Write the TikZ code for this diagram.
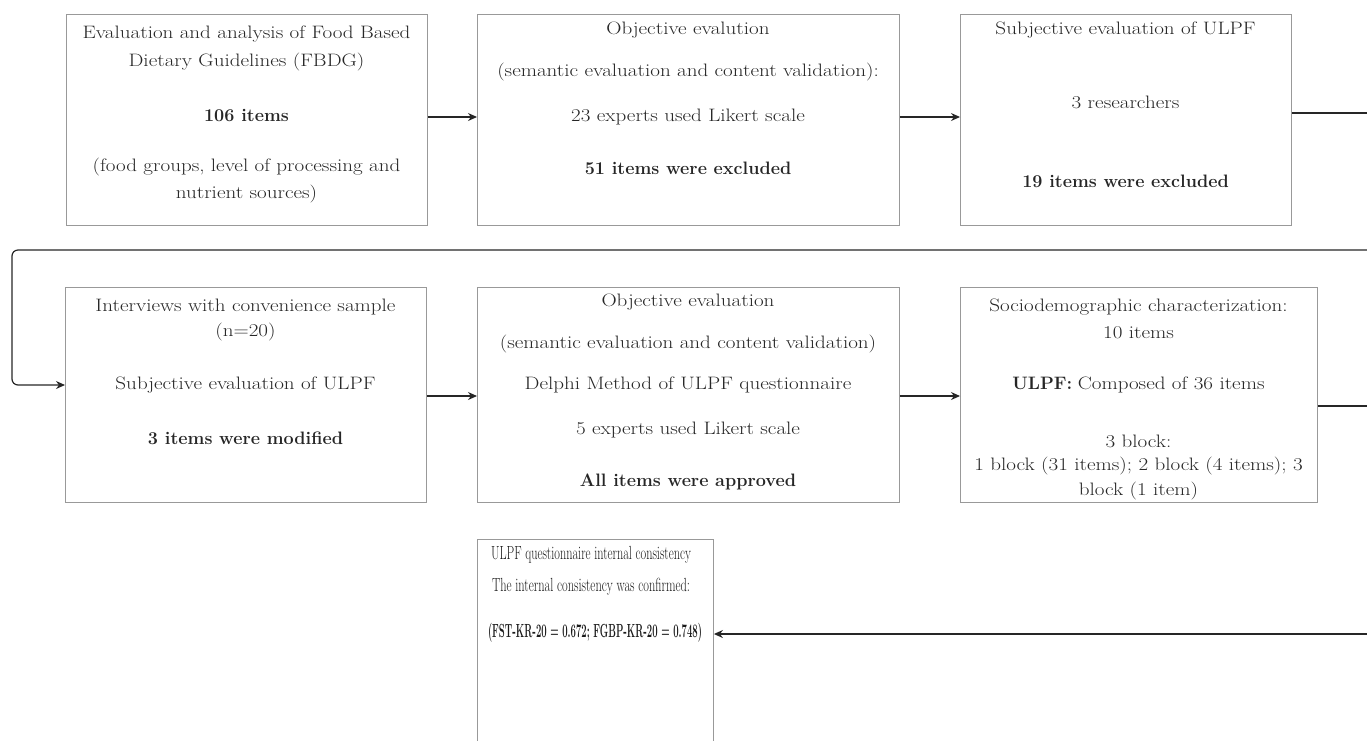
\documentclass[tikz,border=0pt]{standalone}
\usepackage{graphicx}
\usetikzlibrary{arrows.meta}
\newcommand{\W}[1]{\scalebox{1.17}[1]{#1}}
\newcommand{\C}[2]{\resizebox{#1pt}{\height}{#2}}
\begin{document}
\begin{tikzpicture}[x=1pt,y=-1pt,
  box/.style={draw=black!40, line width=0.9pt, anchor=north west, inner sep=0pt},
  txt/.style={inner sep=0pt, font=\fontsize{18}{21}\selectfont, text=black!85},
  ctxt/.style={inner sep=0pt, font=\fontsize{19}{22}\selectfont, text=black!90},
  conn/.style={line width=1.2pt, black!85},
  arr/.style={conn, -{Stealth[length=9pt,width=8pt]}},
]
\useasboundingbox (0,0) rectangle (1367,740);
\clip (0,0) rectangle (1367,740);
% boxes
\node[box, minimum width=361pt, minimum height=211pt] (b1) at (66,14) {};
\node[box, minimum width=422pt, minimum height=211pt] (b2) at (477,14) {};
\node[box, minimum width=331pt, minimum height=211pt] (b3) at (960,14) {};
\node[box, minimum width=361pt, minimum height=215pt] (b4) at (65,287) {};
\node[box, minimum width=422pt, minimum height=215pt] (b5) at (477,287) {};
\node[box, minimum width=357pt, minimum height=215pt] (b6) at (960,287) {};
\node[box, minimum width=236pt, minimum height=215pt] (b7) at (477,539) {};
% box 1 texts
\node[txt] (t11) at (246.5,34) {\W{Evaluation and analysis of Food Based}};
\node[txt] (t12) at (246.5,62) {\W{Dietary Guidelines (FBDG)}};
\node[txt] (t13) at (246.5,115) {\bfseries 106 items};
\node[txt] (t14) at (246.5,167) {\W{(food groups, level of processing and}};
\node[txt] (t15) at (246.5,194) {\W{nutrient sources)}};
% box 2 texts
\node[txt] (t21) at (688,30) {\W{Objective evalution}};
\node[txt] (t22) at (688,72) {\W{(semantic evaluation and content validation):}};
\node[txt] (t23) at (688,117) {\W{23 experts used Likert scale}};
\node[txt] (t24) at (688,168) {\bfseries 51 items were excluded};
% box 3 texts
\node[txt] (t31) at (1125.5,30) {\W{Subjective evaluation of ULPF}};
\node[txt] (t32) at (1125.5,102) {\W{3 researchers}};
\node[txt] (t33) at (1125.5,181) {\bfseries 19 items were excluded};
% box 4 texts
\node[txt] (t41) at (245.5,307) {\W{Interviews with convenience sample}};
\node[txt] (t42) at (245.5,332) {\W{(n=20)}};
\node[txt] (t43) at (245.5,385) {\W{Subjective evaluation of ULPF}};
\node[txt] (t44) at (245.5,438) {\bfseries 3 items were modified};
% box 5 texts
\node[txt] (t51) at (688,302) {\W{Objective evaluation}};
\node[txt] (t52) at (688,344) {\W{(semantic evaluation and content validation)}};
\node[txt] (t53) at (688,385) {\W{Delphi Method of ULPF questionnaire}};
\node[txt] (t54) at (688,430) {\W{5 experts used Likert scale}};
\node[txt] (t55) at (688,482) {\bfseries All items were approved};
% box 6 texts
\node[txt] (t61) at (1138.5,307) {\W{Sociodemographic characterization:}};
\node[txt] (t62) at (1138.5,333) {\W{10 items}};
\node[txt] (t63) at (1138.5,385) {\textbf{ULPF:}\ \W{Composed of 36 items}};
\node[txt] (t64) at (1138.5,441) {\W{3 block:}};
\node[txt] (t65) at (1138.5,466) {\W{1 block (31 items); 2 block (4 items); 3}};
\node[txt] (t66) at (1138.5,491) {\W{block (1 item)}};
% box 7 texts
\node[ctxt] (t71) at (591,555) {\C{200}{ULPF questionnaire internal consistency}};
\node[ctxt] (t72) at (591,587) {\C{198}{The internal consistency was confirmed:}};
\node[ctxt] (t73) at (595,633) {\C{214}{\bfseries (FST-KR-20 = 0.672; FGBP-KR-20 = 0.748)}};
% edge coordinates
\coordinate (e3) at (1367,113);
\coordinate (l1) at (1367,250);
\coordinate (l2) at (12,250);
\coordinate (l3) at (12,385);
\coordinate (e6) at (1367,406);
\coordinate (e7) at (1367,634);
% connectors
\draw[arr] (b1.east |- 0,117) -- (b2.west |- 0,117);
\draw[arr] (b2.east |- 0,117) -- (b3.west |- 0,117);
\draw[conn] (b3.east |- e3) -- (e3);
\draw[arr, rounded corners=6pt] (l1) -- (l2) -- (l3) -- (b4.west |- l3);
\draw[arr] (b4.east |- 0,396) -- (b5.west |- 0,396);
\draw[arr] (b5.east |- 0,396) -- (b6.west |- 0,396);
\draw[conn] (b6.east |- e6) -- (e6);
\draw[arr] (e7) -- (b7.east |- e7);
\end{tikzpicture}
\end{document}
